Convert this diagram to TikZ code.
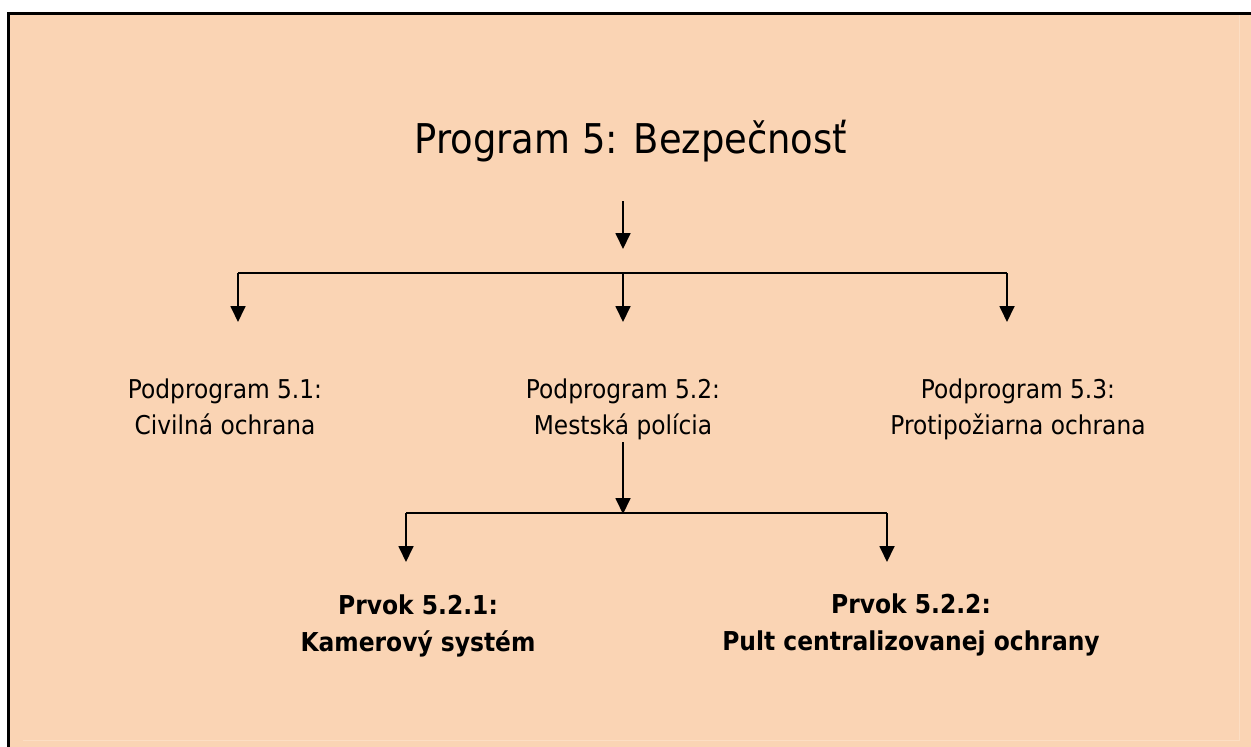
\documentclass[tikz,border=0pt]{standalone}
\usepackage{fontspec}
\setmainfont{DejaVu Sans}[FakeStretch=0.9]
\usetikzlibrary{arrows.meta}
\definecolor{panelfill}{RGB}{250,212,180}
\definecolor{paneledge}{RGB}{252,222,196}
\tikzset{
  conn/.style={draw=black, line width=1.8pt},
  arr/.style={conn, -{Triangle[width=15pt,length=16pt]}},
  titletext/.style={anchor=base, inner sep=0pt, font=\fontsize{41}{48}\selectfont},
  subtext/.style={anchor=base, inner sep=0pt, align=center, font=\fontsize{25.9}{36}\selectfont},
  elemtext/.style={anchor=base, inner sep=0pt, align=center, font=\fontsize{26}{37}\selectfont\bfseries},
}
\begin{document}
\begin{tikzpicture}[x=1pt,y=-1pt]
\useasboundingbox (0,0) rectangle (1251,747);
\fill[white] (0,0) rectangle (1251,747);
\fill[panelfill] (8.5,13.5) rectangle (1251,747);
\draw[paneledge, line width=0.8pt] (23,740) -- (1239,740) -- (1239,15);
\draw[line width=3pt] (8.5,760) -- (8.5,13.5) -- (1260,13.5);

% texts (base anchor = baseline of the last line)
\node[titletext] (title) at (631,153) {Program 5: Bezpečnosť};
\node[subtext] (s1) at (225,434) {Podprogram 5.1:\\Civilná ochrana};
\node[subtext] (s2) at (623,434) {Podprogram 5.2:\\Mestská polícia};
\node[subtext] (s3) at (1018,434) {Podprogram 5.3:\\Protipožiarna ochrana};
\node[elemtext] (e1) at (418,651) {Prvok 5.2.1:\\Kamerový systém};
\node[elemtext] (e2) at (911,650) {Prvok 5.2.2:\\Pult centralizovanej ochrany};

% connector points
\coordinate (a0) at (623,201);
\coordinate (a1) at (623,249);
\coordinate (bL) at (238,273);
\coordinate (bM) at (623,273);
\coordinate (bR) at (1007,273);
\coordinate (t1) at (238,322);
\coordinate (t2) at (623,322);
\coordinate (t3) at (1007,322);
\coordinate (m0) at (623,442);
\coordinate (m1) at (623,514);
\coordinate (cL) at (406,513);
\coordinate (cR) at (887,513);
\coordinate (u1) at (406,562);
\coordinate (u2) at (887,562);

% first level
\draw[arr] (a0) -- (a1);
\draw[conn] (bL) -- (bR);
\draw[arr] (bL) -- (t1);
\draw[arr] (bM) -- (t2);
\draw[arr] (bR) -- (t3);

% second level
\draw[arr] (m0) -- (m1);
\draw[conn] (cL) -- (cR);
\draw[arr] (cL) -- (u1);
\draw[arr] (cR) -- (u2);
\end{tikzpicture}
\end{document}
